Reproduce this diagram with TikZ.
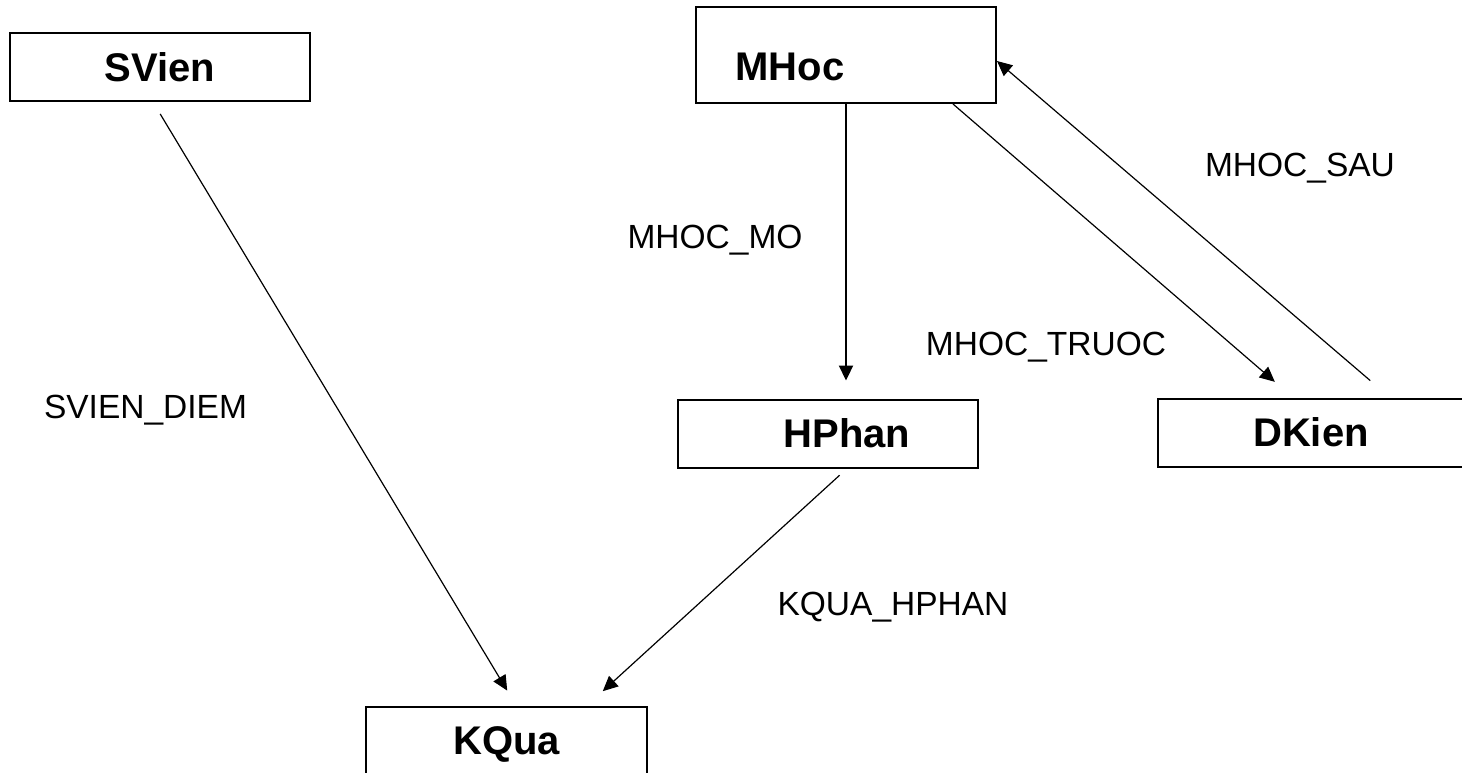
\documentclass[tikz,border=0pt]{standalone}
\usepackage{fontspec}
\setmainfont{Liberation Sans}
\usetikzlibrary{arrows.meta}

\begin{document}
\begin{tikzpicture}[x=0.5pt, y=-0.5pt,
    tabletext/.style={font=\fontsize{20}{24}\selectfont\bfseries},
    table/.style={draw=black, line width=1pt, minimum width=150pt, minimum height=34pt,
        inner sep=0pt, tabletext},
    link/.style={line width=0.6pt, -{Triangle[length=7.5pt,width=7pt]}},
    rel/.style={anchor=base, font=\fontsize{16.75}{20}\selectfont}]
    \useasboundingbox (0,0) rectangle (1462,772);
    % tables
    \node [table] (svien) at (160,67) {SVien};
    \node [table, minimum height=48pt,
        label={[tabletext, xshift=-28pt, yshift=-6pt]center:MHoc}] (mhoc) at (846,55) {};
    \node [table, label={[tabletext, xshift=9.5pt]center:HPhan}] (hphan) at (828,433.5) {};
    \node [table, minimum width=153pt] (dkien) at (1311,432.5) {DKien};
    \node [table, minimum width=140.5pt, minimum height=37pt] (kqua) at (506.5,744) {KQua};
    % relations
    \draw [link, shorten <=7pt, shorten >=9pt] ([xshift=-3.5pt]svien.south) -- ([xshift=5pt]kqua.north);
    \draw [link, line width=1.1pt, shorten >=9pt] (mhoc.south) -- (mhoc.south |- hphan.north);
    \draw [link, shorten >=12pt] ([xshift=53.5pt]mhoc.south) -- ([xshift=-9pt]dkien.north);
    \draw [link, shorten <=13pt] ([xshift=39.5pt]dkien.north) -- ([yshift=-3pt]mhoc.east);
    \draw [link, shorten <=5pt, shorten >=11pt] ([xshift=9.5pt]hphan.south) -- ([xshift=40pt]kqua.north);
    % labels
    \node [rel] (svien_diem) at (145.5,418) {SVIEN\_DIEM};
    \node [rel] (mhoc_mo) at (715,248) {MHOC\_MO};
    \node [rel] (mhoc_truoc) at (1046,355) {MHOC\_TRUOC};
    \node [rel] (mhoc_sau) at (1300,176) {MHOC\_SAU};
    \node [rel] (kqua_hphan) at (893,615) {KQUA\_HPHAN};
\end{tikzpicture}
\end{document}
